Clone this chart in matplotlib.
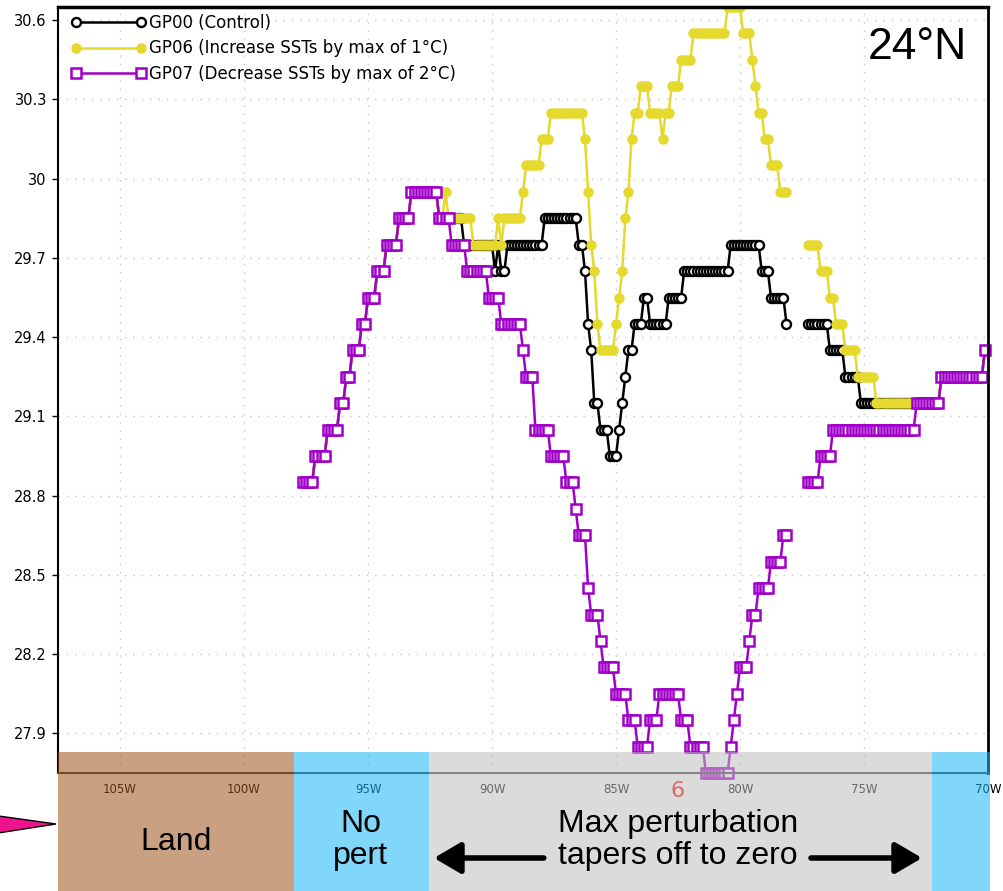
import numpy as np
import matplotlib
matplotlib.use("Agg")
import matplotlib.pyplot as plt
from matplotlib import transforms
from matplotlib.patches import Rectangle, FancyArrowPatch, Polygon
from matplotlib.ticker import FuncFormatter

# SST along 24N on a 1/8 degree grid, 97.625W to 70.125W
lon = np.arange(-97.625, -70.0, 0.125)

# west of the taper zone all runs are identical (no perturbation)
west_nopert = [28.85, 28.85, 28.85, 28.85, 28.95, 28.95, 28.95, 28.95,
               29.05, 29.05, 29.05, 29.05, 29.15, 29.15, 29.25, 29.25,
               29.35, 29.35, 29.35, 29.45, 29.45, 29.55, 29.55, 29.55,
               29.65, 29.65, 29.65, 29.75, 29.75, 29.75, 29.75, 29.85,
               29.85, 29.85, 29.85, 29.95, 29.95, 29.95, 29.95, 29.95,
               29.95, 29.95, 29.95, 29.95]
# east end, also unperturbed
east_nopert = [29.15, 29.15, 29.15, 29.15, 29.15, 29.15, 29.15, 29.15,
               29.25, 29.25, 29.25, 29.25, 29.25, 29.25, 29.25, 29.25,
               29.25, 29.25, 29.25, 29.25, 29.25, 29.25, 29.35]
# Andros Island: no ocean points
land_gap = [np.nan] * 6

gp00_mid = [29.85, 29.85, 29.85, 29.85, 29.85, 29.85, 29.85, 29.85,
            29.75, 29.75, 29.75, 29.75, 29.75, 29.75, 29.75, 29.75, 29.75, 29.75,
            29.65, 29.75, 29.65, 29.65,
            29.75, 29.75, 29.75, 29.75, 29.75, 29.75, 29.75, 29.75, 29.75, 29.75, 29.75, 29.75,
            29.85, 29.85, 29.85, 29.85, 29.85, 29.85, 29.85, 29.85, 29.85, 29.85, 29.85,
            29.75, 29.75, 29.65, 29.45, 29.35, 29.15, 29.15,
            29.05, 29.05, 29.05, 28.95, 28.95, 28.95,
            29.05, 29.15, 29.25, 29.35, 29.35, 29.45, 29.45, 29.45, 29.55, 29.55,
            29.45, 29.45, 29.45, 29.45, 29.45, 29.45,
            29.55, 29.55, 29.55, 29.55, 29.55,
            29.65, 29.65, 29.65, 29.65, 29.65, 29.65, 29.65, 29.65,
            29.65, 29.65, 29.65, 29.65, 29.65, 29.65, 29.65,
            29.75, 29.75, 29.75, 29.75, 29.75, 29.75, 29.75, 29.75, 29.75, 29.75,
            29.65, 29.65, 29.65, 29.55, 29.55, 29.55, 29.55, 29.55, 29.45]
gp00_east = [29.45, 29.45, 29.45, 29.45, 29.45, 29.45, 29.45,
             29.35, 29.35, 29.35, 29.35, 29.35,
             29.25, 29.25, 29.25, 29.25, 29.25,
             29.15, 29.15, 29.15, 29.15, 29.15, 29.15, 29.15, 29.15, 29.15,
             29.15, 29.15, 29.15, 29.15, 29.15, 29.15, 29.15, 29.15, 29.15]

gp06_mid = [29.85, 29.85, 29.95,
            29.85, 29.85, 29.85, 29.85, 29.85, 29.85, 29.85, 29.85,
            29.75, 29.75, 29.75, 29.75, 29.75, 29.75, 29.75, 29.75,
            29.85, 29.75, 29.85, 29.85, 29.85, 29.85, 29.85, 29.85,
            29.95, 30.05, 30.05, 30.05, 30.05, 30.05, 30.15, 30.15, 30.15,
            30.25, 30.25, 30.25, 30.25, 30.25, 30.25, 30.25, 30.25, 30.25, 30.25, 30.25,
            30.15, 29.95, 29.75, 29.65, 29.45,
            29.35, 29.35, 29.35, 29.35, 29.35,
            29.45, 29.55, 29.65, 29.85, 29.95, 30.15, 30.25, 30.25,
            30.35, 30.35, 30.35, 30.25, 30.25, 30.25, 30.25, 30.15, 30.25, 30.25,
            30.35, 30.35, 30.35, 30.45, 30.45, 30.45, 30.45,
            30.55, 30.55, 30.55, 30.55, 30.55, 30.55, 30.55, 30.55, 30.55, 30.55, 30.55,
            30.65, 30.65, 30.65, 30.65, 30.65,
            30.55, 30.55, 30.55, 30.45, 30.35, 30.25, 30.25, 30.15, 30.15,
            30.05, 30.05, 30.05, 29.95, 29.95, 29.95]
gp06_east = [29.75, 29.75, 29.75, 29.75, 29.65, 29.65, 29.65, 29.55, 29.55,
             29.45, 29.45, 29.45, 29.35, 29.35, 29.35, 29.35,
             29.25, 29.25, 29.25, 29.25, 29.25, 29.25,
             29.15, 29.15, 29.15, 29.15, 29.15, 29.15, 29.15, 29.15, 29.15,
             29.15, 29.15, 29.15, 29.15]

gp07_mid = [29.85, 29.85, 29.85, 29.85, 29.75, 29.75, 29.75, 29.75, 29.75,
            29.65, 29.65, 29.65, 29.65, 29.65, 29.65, 29.65,
            29.55, 29.55, 29.55, 29.55,
            29.45, 29.45, 29.45, 29.45, 29.45, 29.45, 29.45,
            29.35, 29.25, 29.25, 29.25,
            29.05, 29.05, 29.05, 29.05, 29.05, 28.95, 28.95, 28.95, 28.95, 28.95,
            28.85, 28.85, 28.85, 28.75, 28.65, 28.65, 28.65, 28.45,
            28.35, 28.35, 28.35, 28.25, 28.15, 28.15, 28.15, 28.15,
            28.05, 28.05, 28.05, 28.05, 27.95, 27.95, 27.95,
            27.85, 27.85, 27.85, 27.85, 27.95, 27.95, 27.95,
            28.05, 28.05, 28.05, 28.05, 28.05, 28.05, 28.05,
            27.95, 27.95, 27.95, 27.85, 27.85, 27.85, 27.85, 27.85,
            27.75, 27.75, 27.75, 27.75, 27.75, 27.75, 27.75, 27.75,
            27.85, 27.95, 28.05, 28.15, 28.15, 28.15, 28.25, 28.35, 28.35,
            28.45, 28.45, 28.45, 28.45, 28.55, 28.55, 28.55, 28.55, 28.65, 28.65]
gp07_east = [28.85, 28.85, 28.85, 28.85, 28.95, 28.95, 28.95, 28.95,
             29.05, 29.05, 29.05, 29.05, 29.05, 29.05, 29.05, 29.05, 29.05,
             29.05, 29.05, 29.05, 29.05, 29.05, 29.05, 29.05, 29.05, 29.05,
             29.05, 29.05, 29.05, 29.05, 29.05, 29.05, 29.05, 29.05, 29.05]

labels = ["GP00 (Control)",
          "GP06 (Increase SSTs by max of 1\u00b0C)",
          "GP07 (Decrease SSTs by max of 2\u00b0C)"]

# perturbation zones drawn under the axis
zone_edges = [-107.5, -98.0, -92.55, -72.25, -69.92]
zone_colors = ["#9d531c", "#18b6f6", "#bebebe", "#18b6f6"]
zone_alpha = 0.55

yticks = [27.9, 28.2, 28.5, 28.8, 29.1, 29.4, 29.7, 30.0, 30.3, 30.6]
xticks = [-105, -100, -95, -90, -85, -80, -75, -70]


def series(mid, east):
    return np.array(west_nopert + mid + land_gap + east + east_nopert, dtype=float)


gp00 = series(gp00_mid, gp00_east)
gp06 = series(gp06_mid, gp06_east)
gp07 = series(gp07_mid, gp07_east)

fig = plt.figure(figsize=(10.04, 8.91), dpi=100)
ax = fig.add_axes([58 / 1004, 1 - 773 / 891, 930 / 1004, 766 / 891])

black = "black"
yellow = "#e4d92c"
purple = "#a000c8"

l0, = ax.plot(lon, gp00, color=black, lw=1.8, marker="o", ms=6.5,
              mfc="white", mec=black, mew=1.7)
l1, = ax.plot(lon, gp06, color=yellow, lw=1.8, marker="o", ms=6.5,
              mfc=yellow, mec=yellow, mew=1.0)
l2, = ax.plot(lon, gp07, color=purple, lw=1.8, marker="s", ms=7,
              mfc="white", mec=purple, mew=1.8, clip_on=False)

ax.set_xlim(-107.5, -70)
ax.set_ylim(27.75, 30.65)
ax.set_xticks(xticks)
ax.set_yticks(yticks)
ax.xaxis.set_major_formatter(FuncFormatter(lambda v, p: f"{int(round(-v))}W"))
ax.yaxis.set_major_formatter(FuncFormatter(lambda v, p: f"{v:g}"))
ax.tick_params(axis="y", direction="out", length=4, width=1, pad=4, labelsize=10.5)
ax.tick_params(axis="x", length=0, pad=7, labelsize=8.5)
ax.grid(True, color="#c4c4c4", linestyle=(0, (1, 5)), linewidth=1.0)

ax.spines["top"].set_linewidth(2.5)
ax.spines["left"].set_linewidth(1.5)
ax.spines["right"].set_linewidth(2.0)
ax.spines["bottom"].set_linewidth(1.5)
ax.spines["bottom"].set_color("#444444")

ax.legend([l0, l1, l2], labels, loc="upper left", bbox_to_anchor=(0.0145, 0.991),
          frameon=False, numpoints=2, handlelength=4.5, handletextpad=0.15,
          labelspacing=0.45, borderpad=0, borderaxespad=0, fontsize=12)

fig.text(0.914, 0.947, "24\u00b0N", fontsize=32, family="Liberation Sans",
         ha="center", va="center")

# x in longitude, y in figure fraction
blend = transforms.blended_transform_factory(ax.transData, fig.transFigure)
box_top = 1 - 752 / 891

# storm symbol sits under the overlay
ax.text(-82.5, 0.112, "6", transform=blend, color="red", fontsize=16,
        ha="center", va="center", clip_on=False)

for x0, x1, c in zip(zone_edges[:-1], zone_edges[1:], zone_colors):
    fig.add_artist(Rectangle((x0, 0), x1 - x0, box_top, transform=blend,
                             facecolor=c, alpha=zone_alpha, edgecolor="none"))

txt = dict(transform=blend, family="Liberation Sans", fontsize=23,
           ha="center", va="center", linespacing=1.1)
fig.text(-102.75, 0.055, "Land", **txt)
fig.text(-95.3, 0.057, "No\npert", **txt)
fig.text(-82.5, 0.057, "Max perturbation\ntapers off to zero", **txt)

arrow_y = 1 - 858 / 891
for start, tip in [(-87.8, -92.45), (-77.25, -72.55)]:
    fig.add_artist(FancyArrowPatch((start, arrow_y), (tip, arrow_y), transform=blend,
                                   arrowstyle="-|>,head_length=0.85,head_width=0.5",
                                   mutation_scale=19, lw=4, color="black"))

# pointer coming in from the left edge
fig.add_artist(Polygon([(-0.005, 1 - 815.5 / 891), (56 / 1004, 1 - 824 / 891),
                        (-0.005, 1 - 833.5 / 891)], closed=True,
                       transform=fig.transFigure, facecolor="#f0148c",
                       edgecolor="black", lw=1))

fig.savefig("out.png", dpi=100)
